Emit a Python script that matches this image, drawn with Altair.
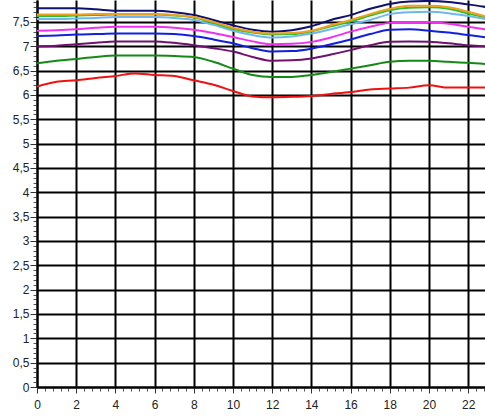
import altair as alt
import pandas as pd
import numpy as np

hours = list(range(24))

navy = [7.78, 7.78, 7.78, 7.76, 7.73, 7.73, 7.73, 7.70, 7.64, 7.54, 7.43, 7.34, 7.30, 7.33, 7.41, 7.54, 7.64, 7.77, 7.87, 7.92, 7.93, 7.91, 7.86, 7.80]
orange = [7.65, 7.65, 7.65, 7.66, 7.66, 7.66, 7.66, 7.64, 7.60, 7.50, 7.38, 7.30, 7.26, 7.27, 7.32, 7.43, 7.54, 7.66, 7.77, 7.83, 7.83, 7.80, 7.71, 7.60]
lime = [7.62, 7.62, 7.63, 7.64, 7.65, 7.65, 7.65, 7.63, 7.59, 7.48, 7.36, 7.28, 7.24, 7.25, 7.31, 7.41, 7.51, 7.63, 7.74, 7.79, 7.80, 7.77, 7.67, 7.59]
skyblue = [7.56, 7.56, 7.57, 7.58, 7.60, 7.60, 7.60, 7.58, 7.54, 7.44, 7.32, 7.23, 7.18, 7.20, 7.26, 7.35, 7.45, 7.54, 7.66, 7.70, 7.71, 7.68, 7.62, 7.55]
magenta = [7.32, 7.33, 7.35, 7.38, 7.40, 7.40, 7.40, 7.38, 7.34, 7.27, 7.19, 7.10, 7.04, 7.05, 7.09, 7.18, 7.30, 7.40, 7.48, 7.50, 7.50, 7.46, 7.40, 7.34]
blue = [7.21, 7.22, 7.24, 7.25, 7.26, 7.26, 7.26, 7.25, 7.21, 7.14, 7.06, 6.96, 6.89, 6.90, 6.95, 7.04, 7.14, 7.25, 7.34, 7.35, 7.32, 7.28, 7.23, 7.18]
purple = [7.00, 7.01, 7.04, 7.07, 7.10, 7.10, 7.10, 7.07, 7.02, 6.96, 6.89, 6.78, 6.70, 6.71, 6.75, 6.83, 6.92, 7.02, 7.09, 7.10, 7.09, 7.06, 7.02, 7.00]
darkgreen = [6.65, 6.70, 6.74, 6.78, 6.81, 6.81, 6.81, 6.80, 6.78, 6.68, 6.54, 6.41, 6.37, 6.37, 6.41, 6.47, 6.54, 6.61, 6.68, 6.70, 6.70, 6.68, 6.66, 6.63]
red = [6.17, 6.27, 6.30, 6.35, 6.39, 6.44, 6.41, 6.39, 6.30, 6.21, 6.08, 5.97, 5.95, 5.96, 5.98, 6.02, 6.06, 6.11, 6.13, 6.15, 6.20, 6.15, 6.15, 6.15]

series = {
    "navy": navy, "skyblue": skyblue, "lime": lime, "orange": orange,
    "magenta": magenta, "blue": blue, "purple": purple,
    "darkgreen": darkgreen, "red": red,
}
colors = ["#101070", "#6fb6f0", "#2fc030", "#f0a020", "#f030f0", "#1020e0", "#701070", "#138a13", "#f01010"]

rows = []
for name, vals in series.items():
    for h, v in zip(hours, vals):
        rows.append({"hour": h, "value": v, "series": name})
df = pd.DataFrame(rows)

x_major = list(range(0, 23, 2))
y_major = [i * 0.5 for i in range(16)]
x_minor = [round(i * 0.4, 2) for i in range(58)]
y_minor = [round(i * 0.1, 2) for i in range(80)]

xscale = alt.Scale(domain=[0, 22.86], nice=False, zero=False)
yscale = alt.Scale(domain=[0, 7.95], nice=False, zero=False)

font = "Liberation Sans"

lines = alt.Chart(df).mark_line(strokeWidth=2, clip=True, interpolate="monotone").encode(
    x=alt.X("hour:Q", scale=xscale, axis=alt.Axis(
        values=x_major, title=None, grid=True, gridColor="#000000", gridWidth=2,
        domainColor="#000000", domainWidth=2, tickColor="#333333", tickSize=6,
        labelFont=font, labelFontSize=12, labelColor="#222222", labelPadding=6,
        orient="bottom", labelFlush=False)),
    y=alt.Y("value:Q", scale=yscale, axis=alt.Axis(
        values=y_major, title=None, grid=True, gridColor="#000000", gridWidth=2,
        domainColor="#000000", domainWidth=2, tickColor="#333333", tickSize=7,
        labelFont=font, labelFontSize=12, labelColor="#222222", labelPadding=1,
        labelExpr="replace(format(datum.value, '~g'), '.', ',')",
        orient="left", labelFlush=False)),
    color=alt.Color("series:N", scale=alt.Scale(domain=list(series.keys()), range=colors), legend=None),
    order=alt.Order("series:N"),
)

minor = alt.Chart(df).mark_line(opacity=0).encode(
    x=alt.X("hour:Q", scale=xscale, axis=alt.Axis(
        values=x_minor, title=None, grid=False, domain=False, labels=False,
        tickColor="#555555", tickSize=4, orient="bottom")),
    y=alt.Y("value:Q", scale=yscale, axis=alt.Axis(
        values=y_minor, title=None, grid=False, domain=False, labels=False,
        tickColor="#555555", tickSize=4, orient="left")),
    detail="series:N",
)

chart = alt.layer(minor, lines).resolve_axis(x="independent", y="independent").properties(
    width=448, height=387,
    padding={"left": 37, "top": 0, "right": 0, "bottom": 31},
    autosize="none",
    background="#ffffff",
).configure_view(stroke=None)

chart.save("out.html", embed_options={"renderer": "svg", "actions": False})
